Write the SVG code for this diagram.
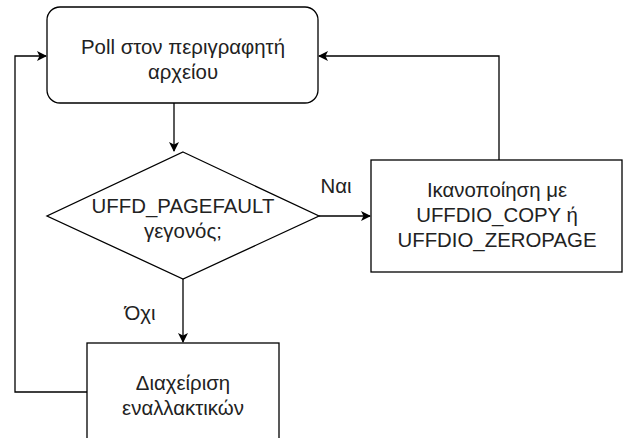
<svg xmlns="http://www.w3.org/2000/svg" width="624" height="438" viewBox="0 0 624 438">
<defs>
<style>
.node{fill:#ffffff;stroke:#000000;stroke-width:1.3}
.edge{fill:none;stroke:#000000;stroke-width:1.3}
text{font-family:"Liberation Sans",Arial,sans-serif;font-size:20.4px;fill:#222222;text-anchor:middle}
</style>
<marker id="arr" viewBox="0 0 10 10" refX="9" refY="5" markerWidth="10" markerHeight="10" markerUnits="userSpaceOnUse" orient="auto">
<path d="M0,0 L10,5 L0,10 L2.5,5 Z" fill="#000000"/>
</marker>
</defs>
<rect width="624" height="438" fill="#ffffff"/>
<g id="connectors">
<path class="edge" d="M174,103 L174,151" marker-end="url(#arr)"/>
<path class="edge" d="M319,216 L370,216" marker-end="url(#arr)"/>
<path class="edge" d="M183,278 L183,342" marker-end="url(#arr)"/>
<path class="edge" d="M499,160 L499,56 L319,56" marker-end="url(#arr)"/>
<path class="edge" d="M87,392 L15,392 L15,56 L46,56" marker-end="url(#arr)"/>
<text x="336" y="193">Ναι</text>
<text x="140" y="320">Όχι</text>
</g>
<g id="poll">
<rect class="node" x="47" y="7" width="271" height="96" rx="13" ry="13"/>
<text x="183" y="54">Poll στον περιγραφητή</text>
<text x="183" y="79">αρχείου</text>
</g>
<g id="decision">
<polygon class="node" points="183,152 319,216 183,279 47,216"/>
<text x="183" y="213">UFFD_PAGEFAULT</text>
<text x="183" y="238">γεγονός;</text>
</g>
<g id="satisfy">
<rect class="node" x="371" y="160" width="251" height="112"/>
<text x="497" y="197">Ικανοποίηση με</text>
<text x="497" y="222">UFFDIO_COPY ή</text>
<text x="497" y="247">UFFDIO_ZEROPAGE</text>
</g>
<g id="handle">
<rect class="node" x="87" y="343" width="192" height="110"/>
<text x="183" y="390">Διαχείριση</text>
<text x="183" y="415">εναλλακτικών</text>
</g>
</svg>
